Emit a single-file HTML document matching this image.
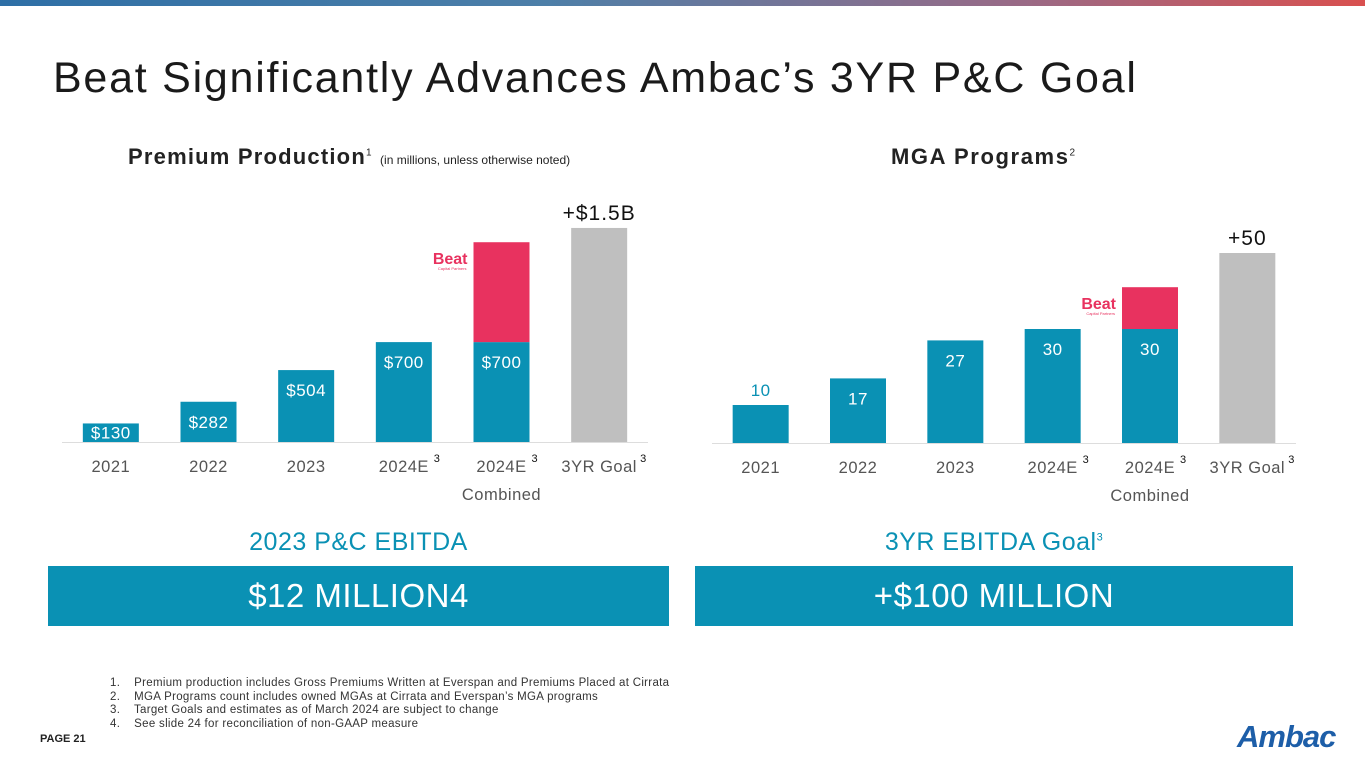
<!DOCTYPE html>
<html><head><meta charset="utf-8"><style>
body{margin:0;width:1365px;height:768px;overflow:hidden;background:#fff;font-family:"Liberation Sans",sans-serif;position:relative}
.abs{position:absolute}
</style></head><body>
<div class="abs" style="left:0;top:0;width:1365px;height:6px;background:linear-gradient(90deg,#2e6fa6,#4d7fa8 40%,#9a6a86 75%,#d9504f)"></div>
<div class="abs" style="left:53px;top:54px;font-size:43px;color:#1a1a1a;letter-spacing:1.75px">Beat Significantly Advances Ambac’s 3YR P&amp;C Goal</div>
<div class="abs" style="left:128px;top:144px;font-size:22px;font-weight:bold;color:#222;letter-spacing:1.2px">Premium Production<sup style="font-size:10px;font-weight:normal">1</sup> <span style="font-size:12px;font-weight:normal;letter-spacing:0">(in millions, unless otherwise noted)</span></div>
<div class="abs" style="left:891px;top:144px;font-size:22px;font-weight:bold;color:#222;letter-spacing:1.6px">MGA Programs<sup style="font-size:10px;font-weight:normal">2</sup></div>
<svg class="abs" style="left:0;top:0" width="1365" height="768"><g id="left"></g><g id="right"></g></svg>
<div class="abs" style="left:48px;width:621px;top:528px;text-align:center;font-size:25px;color:#0a91b4;letter-spacing:0.5px">2023 P&amp;C EBITDA</div>
<div class="abs" style="left:695px;width:598px;top:528px;text-align:center;font-size:25px;color:#0a91b4;letter-spacing:0.5px">3YR EBITDA Goal<sup style="font-size:11px">3</sup></div>
<div class="abs" style="left:48px;top:566px;width:621px;height:60px;background:#0a91b4;color:#fff;font-size:33px;line-height:60px;text-align:center;letter-spacing:0.5px">$12 MILLION4</div>
<div class="abs" style="left:695px;top:566px;width:598px;height:60px;background:#0a91b4;color:#fff;font-size:33px;line-height:60px;text-align:center;letter-spacing:0.5px">+$100 MILLION</div>
<div class="abs" style="left:110px;top:677px;font-size:11.5px;color:#333;line-height:13.5px;letter-spacing:0.3px">
<div>1.&nbsp;&nbsp;&nbsp; Premium production includes Gross Premiums Written at Everspan and Premiums Placed at Cirrata</div>
<div>2.&nbsp;&nbsp;&nbsp; MGA Programs count includes owned MGAs at Cirrata and Everspan’s MGA programs</div>
<div>3.&nbsp;&nbsp;&nbsp; Target Goals and estimates as of March 2024 are subject to change</div>
<div>4.&nbsp;&nbsp;&nbsp; See slide 24 for reconciliation of non-GAAP measure</div></div>
<div class="abs" style="left:40px;top:733px;font-size:11px;font-weight:bold;color:#222">PAGE 21</div>
<div class="abs" style="left:1237px;top:719px;font-size:31px;font-weight:bold;font-style:italic;color:#1d5ea8;letter-spacing:-1px">Ambac</div>
<script>
const cats=["2021","2022","2023","2024E","2024E","3YR Goal"];
const premBase=[130,282,504,700,700,0];
const premBeat=[0,0,0,0,700,0];
const premGoal=[0,0,0,0,0,1500];
const premLabels=["$130","$282","$504","$700","$700",""];
const mgaBase=[10,17,27,30,30,0];
const mgaBeat=[0,0,0,0,11,0];
const mgaGoal=[0,0,0,0,0,50];
const mgaLabels=["10","17","27","30","30",""];
const NS="http://www.w3.org/2000/svg";
function mk(g,t,a,txt){const e=document.createElementNS(NS,t);for(const k in a)e.setAttribute(k,a[k]);if(txt!==undefined)e.textContent=txt;g.appendChild(e);return e;}
function chart(id,x0,x1,base,scale,b,beat,goal,labels,goalText,smallFirst){
 const g=document.getElementById(id);
 const step=(x1-x0)/6;
 const xc=i=>x0+step*(i+0.5);
 const y=v=>base-v*scale;
 let l=mk(g,"line",{x1:x0,x2:x1,y1:base+0.5,y2:base+0.5,stroke:"#ddd","stroke-width":1});
 
 cats.forEach((c,i)=>{
  const cx=xc(i);
  if(b[i]>0){const r=mk(g,"rect",{x:cx-28,y:y(b[i]),width:56,height:base-y(b[i]),fill:"#0a91b4"});
   }
  if(beat[i]>0){const r=mk(g,"rect",{x:cx-28,y:y(b[i]+beat[i]),width:56,height:beat[i]*scale,fill:"#e8325f"});
   
   const t=mk(g,"text",{x:cx-34,y:y(b[i]+beat[i])+22,"text-anchor":"end","font-size":16,"font-weight":"bold",fill:"#e8325f"},"Beat");
   
   mk(g,"text",{x:cx-35,y:y(b[i]+beat[i])+28,"text-anchor":"end","font-size":4,fill:"#e8325f"},"Capital Partners");}
  if(goal[i]>0){const r=mk(g,"rect",{x:cx-28,y:y(goal[i]),width:56,height:goal[i]*scale,fill:"#bfbfbf"});
   
   const t=mk(g,"text",{x:cx,y:y(goal[i])-8,"text-anchor":"middle","font-size":21,fill:"#111","letter-spacing":1},goalText);
   }
  if(labels[i]){let ly=y(b[i])+(i===0&&smallFirst?-9:Math.min(26,(base-y(b[i]))/2+6));
   if(i>=3)ly=y(b[i])+26;
   const t=mk(g,"text",{x:cx,y:ly,"text-anchor":"middle","font-size":17,fill:(i===0&&smallFirst)?"#0a91b4":"#fff","letter-spacing":0.5},labels[i]);
   }
  const t=mk(g,"text",{x:cx,y:base+30,"text-anchor":"middle","font-size":16.5,fill:"#555","letter-spacing":0.5},c);
  
  if(i>=3){mk(g,"text",{x:cx+(i===5?44:33),y:base+20,"text-anchor":"middle","font-size":11,fill:"#111"},"3");}
  if(i===4){const s=mk(g,"text",{x:cx,y:base+58,"text-anchor":"middle","font-size":16.5,fill:"#555","letter-spacing":0.5},"Combined");
   }
 });
}
chart("left",62,648,442,0.1427,premBase,premBeat,premGoal,premLabels,"+$1.5B",false);
chart("right",712,1296,443,3.8,mgaBase,mgaBeat,mgaGoal,mgaLabels,"+50",true);
</script>
</body></html>
